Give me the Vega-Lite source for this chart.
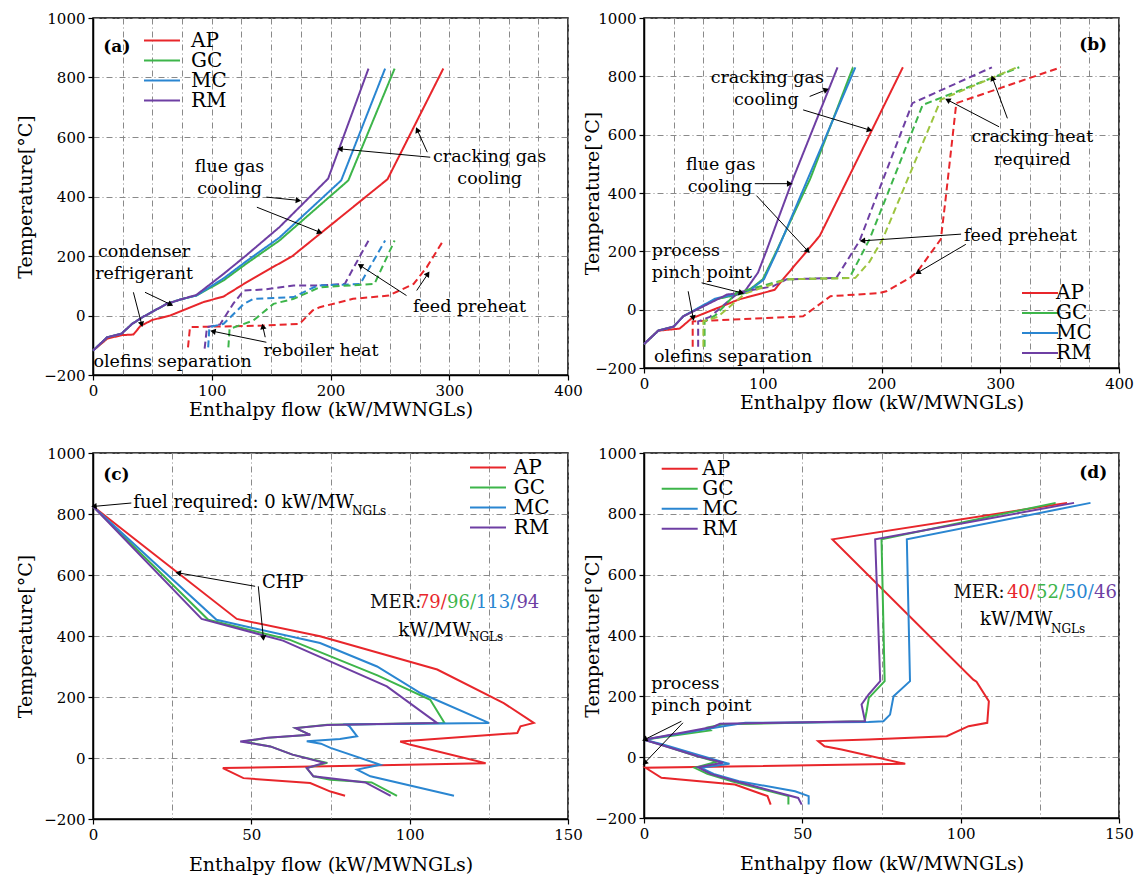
{
"$schema":"https://vega.github.io/schema/vega-lite/v6.json",
"padding":{"left":15,"top":10,"right":5,"bottom":5},
"config":{
 "font":"DejaVu Serif",
 "view":{"stroke":"black","strokeWidth":1.5},
 "axis":{"labelFont":"DejaVu Serif","labelFontSize":15,"labelColor":"black","labelFlush":false,"labelPadding":3,"titleFont":"DejaVu Serif","titleFontSize":19,"titleFontWeight":"normal","titleColor":"black","domainColor":"black","domainWidth":1.5,"tickColor":"black","tickSize":5,"tickWidth":1.2,"gridColor":"#8a8a8a","gridDash":[6,3,1,3],"gridWidth":1,"format":"d"},
 "axisY":{"minExtent":42,"maxExtent":42},
 "axisX":{"minExtent":25,"maxExtent":25},
 "legend":{"labelFont":"DejaVu Serif"},
 "text":{"font":"DejaVu Serif","fontSize":17.5,"baseline":"middle","color":"black"}
},
"resolve":{"scale":{"color":"independent"},"legend":{"color":"independent"}},
"spacing":25,
"vconcat":[
{"hconcat":[
{
 "width":475,"height":357,
 "encoding":{
  "x":{"field":"x","type":"quantitative","scale":{"domain":[0,400],"nice":false},"title":"Enthalpy flow (kW/MWNGLs)","axis":{"values":[0,25,50,75,100,125,150,175,200,225,250,275,300,325,350,375,400],"labelExpr":"datum.value % 100 === 0 ? datum.label : ''","tickOpacity":{"condition":{"test":"datum.value % 100 === 0","value":1},"value":0},"titlePadding":0}},
  "y":{"field":"y","type":"quantitative","scale":{"domain":[-200,1000],"nice":false},"title":"Temperature[°C]","axis":{"values":[-200,0,200,400,600,800,1000],"titlePadding":16}}
 },
 "layer":[
  {"data":{"values":[
{"s":"AP","k":"h","x":0,"y":-118},{"s":"AP","k":"h","x":12,"y":-78},{"s":"AP","k":"h","x":24,"y":-66},{"s":"AP","k":"h","x":34,"y":-64},{"s":"AP","k":"h","x":40,"y":-35},{"s":"AP","k":"h","x":50,"y":-15},{"s":"AP","k":"h","x":65,"y":0},{"s":"AP","k":"h","x":93,"y":45},{"s":"AP","k":"h","x":110,"y":64},{"s":"AP","k":"h","x":127,"y":106},{"s":"AP","k":"h","x":146,"y":150},{"s":"AP","k":"h","x":168,"y":200},{"s":"AP","k":"h","x":248,"y":458},{"s":"AP","k":"h","x":295,"y":830},
{"s":"GC","k":"h","x":0,"y":-118},{"s":"GC","k":"h","x":12,"y":-73},{"s":"GC","k":"h","x":24,"y":-61},{"s":"GC","k":"h","x":33,"y":-28},{"s":"GC","k":"h","x":42,"y":-5},{"s":"GC","k":"h","x":62,"y":39},{"s":"GC","k":"h","x":73,"y":53},{"s":"GC","k":"h","x":87,"y":67},{"s":"GC","k":"h","x":110,"y":118},{"s":"GC","k":"h","x":129,"y":174},{"s":"GC","k":"h","x":157,"y":252},{"s":"GC","k":"h","x":215,"y":454},{"s":"GC","k":"h","x":254,"y":830},
{"s":"MC","k":"h","x":0,"y":-118},{"s":"MC","k":"h","x":12,"y":-73},{"s":"MC","k":"h","x":24,"y":-61},{"s":"MC","k":"h","x":33,"y":-28},{"s":"MC","k":"h","x":42,"y":-5},{"s":"MC","k":"h","x":62,"y":39},{"s":"MC","k":"h","x":73,"y":53},{"s":"MC","k":"h","x":87,"y":67},{"s":"MC","k":"h","x":110,"y":125},{"s":"MC","k":"h","x":129,"y":182},{"s":"MC","k":"h","x":157,"y":262},{"s":"MC","k":"h","x":209,"y":454},{"s":"MC","k":"h","x":246,"y":830},
{"s":"RM","k":"h","x":0,"y":-118},{"s":"RM","k":"h","x":12,"y":-73},{"s":"RM","k":"h","x":24,"y":-61},{"s":"RM","k":"h","x":33,"y":-28},{"s":"RM","k":"h","x":42,"y":-5},{"s":"RM","k":"h","x":62,"y":39},{"s":"RM","k":"h","x":73,"y":53},{"s":"RM","k":"h","x":87,"y":69},{"s":"RM","k":"h","x":110,"y":140},{"s":"RM","k":"h","x":129,"y":202},{"s":"RM","k":"h","x":157,"y":297},{"s":"RM","k":"h","x":198,"y":460},{"s":"RM","k":"h","x":232,"y":830},
{"s":"AP","k":"c","x":80,"y":-107},{"s":"AP","k":"c","x":81.7,"y":-39},{"s":"AP","k":"c","x":143,"y":-34},{"s":"AP","k":"c","x":174,"y":-28},{"s":"AP","k":"c","x":185,"y":17},{"s":"AP","k":"c","x":191,"y":28},{"s":"AP","k":"c","x":219,"y":56},{"s":"AP","k":"c","x":249,"y":67},{"s":"AP","k":"c","x":270,"y":106},{"s":"AP","k":"c","x":281,"y":162},{"s":"AP","k":"c","x":295,"y":252},
{"s":"RM","k":"c","x":94,"y":-111},{"s":"RM","k":"c","x":96,"y":-39},{"s":"RM","k":"c","x":107,"y":-30},{"s":"RM","k":"c","x":118,"y":39},{"s":"RM","k":"c","x":127,"y":84},{"s":"RM","k":"c","x":146,"y":88},{"s":"RM","k":"c","x":169,"y":101},{"s":"RM","k":"c","x":191,"y":101},{"s":"RM","k":"c","x":212,"y":106},{"s":"RM","k":"c","x":232,"y":252},
{"s":"MC","k":"c","x":97,"y":-107},{"s":"MC","k":"c","x":98,"y":-39},{"s":"MC","k":"c","x":110,"y":-28},{"s":"MC","k":"c","x":127,"y":39},{"s":"MC","k":"c","x":135,"y":56},{"s":"MC","k":"c","x":169,"y":62},{"s":"MC","k":"c","x":186,"y":95},{"s":"MC","k":"c","x":191,"y":101},{"s":"MC","k":"c","x":225,"y":106},{"s":"MC","k":"c","x":246,"y":252},
{"s":"GC","k":"c","x":114,"y":-107},{"s":"GC","k":"c","x":115,"y":-45},{"s":"GC","k":"c","x":135,"y":-17},{"s":"GC","k":"c","x":152,"y":39},{"s":"GC","k":"c","x":169,"y":56},{"s":"GC","k":"c","x":191,"y":95},{"s":"GC","k":"c","x":237,"y":106},{"s":"GC","k":"c","x":254,"y":252}
  ]},
  "transform":[{"window":[{"op":"row_number","as":"i"}]}],
  "mark":{"type":"line","strokeWidth":2},
  "encoding":{
   "color":{"field":"s","type":"nominal","scale":{"domain":["AP","GC","MC","RM"],"range":["#E8262B","#3DB54A","#2A86D1","#6E3FA3"]},"legend":{"title":null,"orient":"none","legendX":59,"legendY":12.5,"values":["AP","GC","MC","RM"],"symbolType":"M-3,0H3","symbolSize":144,"symbolStrokeWidth":2,"labelFontSize":20,"labelColor":"black","labelOffset":19,"rowPadding":-1,"padding":0}},
   "strokeDash":{"field":"k","type":"nominal","scale":{"domain":["h","c"],"range":[[1,0],[7,4]]},"legend":null},
   "order":{"field":"i","type":"quantitative"}
  }},
  {"data":{"values":[
{"x":173,"y":387,"tx":146,"ty":398},{"x":191,"y":280,"tx":138,"ty":364},{"x":208,"y":560,"tx":284,"ty":532},{"x":273,"y":624,"tx":281.5,"ty":549},{"x":65.4,"y":37,"tx":43.8,"ty":78},{"x":41,"y":-30,"tx":34,"ty":78},{"x":101,"y":-53,"tx":146,"ty":-90},{"x":143,"y":-37,"tx":145,"ty":-73},{"x":225,"y":168,"tx":264,"ty":67},{"x":282,"y":140,"tx":272.6,"ty":84}
  ]},
  "layer":[
   {"mark":{"type":"rule","color":"black","strokeWidth":1},"encoding":{"x2":{"field":"tx"},"y2":{"field":"ty"}}},
   {"transform":[{"calculate":"atan2((datum.x-datum.tx)*1.1875,(datum.y-datum.ty)*0.2975)*180/PI","as":"ang"}],
    "mark":{"type":"point","shape":"triangle-up","filled":true,"color":"black","size":40,"opacity":1},
    "encoding":{"angle":{"field":"ang","type":"quantitative","scale":null}}}
  ]},
  {"data":{"values":[
{"t":"flue gas","x":115,"y":498},{"t":"cooling","x":115,"y":426},{"t":"cracking gas","x":334,"y":532},{"t":"cooling","x":334,"y":459},{"t":"condenser","x":43,"y":213},{"t":"refrigerant","x":43,"y":140},{"t":"olefins separation","x":67,"y":-157},{"t":"reboiler heat","x":192,"y":-120},{"t":"feed preheat","x":317,"y":28}
  ]},"mark":{"type":"text","align":"center"},"encoding":{"text":{"field":"t"}}},
  {"data":{"values":[{"t":"(a)","x":8.7,"y":902}]},"mark":{"type":"text","align":"left","fontWeight":"bold","fontSize":17},"encoding":{"text":{"field":"t"}}}
 ]
},
{
 "width":475,"height":350,
 "encoding":{
  "x":{"field":"x","type":"quantitative","scale":{"domain":[0,400],"nice":false},"title":"Enthalpy flow (kW/MWNGLs)","axis":{"values":[0,25,50,75,100,125,150,175,200,225,250,275,300,325,350,375,400],"labelExpr":"datum.value % 100 === 0 ? datum.label : ''","tickOpacity":{"condition":{"test":"datum.value % 100 === 0","value":1},"value":0},"titlePadding":0}},
  "y":{"field":"y","type":"quantitative","scale":{"domain":[-200,1000],"nice":false},"title":"Temperature[°C]","axis":{"values":[-200,0,200,400,600,800,1000],"titlePadding":0}}
 },
 "layer":[
  {"data":{"values":[
{"s":"AP","k":"h","x":0,"y":-118},{"s":"AP","k":"h","x":12,"y":-72},{"s":"AP","k":"h","x":30,"y":-65},{"s":"AP","k":"h","x":40,"y":-30},{"s":"AP","k":"h","x":80,"y":35},{"s":"AP","k":"h","x":110,"y":68},{"s":"AP","k":"h","x":117,"y":104},{"s":"AP","k":"h","x":137,"y":200},{"s":"AP","k":"h","x":148,"y":253},{"s":"AP","k":"h","x":218,"y":831},
{"s":"GC","k":"h","x":0,"y":-118},{"s":"GC","k":"h","x":12,"y":-72},{"s":"GC","k":"h","x":25,"y":-58},{"s":"GC","k":"h","x":33,"y":-23},{"s":"GC","k":"h","x":60,"y":35},{"s":"GC","k":"h","x":86,"y":58},{"s":"GC","k":"h","x":89,"y":69},{"s":"GC","k":"h","x":100,"y":104},{"s":"GC","k":"h","x":111,"y":196},{"s":"GC","k":"h","x":140,"y":449},{"s":"GC","k":"h","x":176,"y":831},
{"s":"MC","k":"h","x":0,"y":-118},{"s":"MC","k":"h","x":12,"y":-72},{"s":"MC","k":"h","x":25,"y":-58},{"s":"MC","k":"h","x":33,"y":-23},{"s":"MC","k":"h","x":60,"y":38},{"s":"MC","k":"h","x":86,"y":60},{"s":"MC","k":"h","x":90,"y":69},{"s":"MC","k":"h","x":101,"y":104},{"s":"MC","k":"h","x":112,"y":200},{"s":"MC","k":"h","x":138,"y":449},{"s":"MC","k":"h","x":178,"y":831},
{"s":"RM","k":"h","x":0,"y":-118},{"s":"RM","k":"h","x":12,"y":-72},{"s":"RM","k":"h","x":25,"y":-58},{"s":"RM","k":"h","x":33,"y":-23},{"s":"RM","k":"h","x":70,"y":52},{"s":"RM","k":"h","x":84,"y":58},{"s":"RM","k":"h","x":96,"y":127},{"s":"RM","k":"h","x":103,"y":201},{"s":"RM","k":"h","x":125.5,"y":449},{"s":"RM","k":"h","x":163,"y":831},
{"s":"AP","k":"c","x":41,"y":-127},{"s":"AP","k":"c","x":41,"y":-40},{"s":"AP","k":"c","x":134,"y":-23},{"s":"AP","k":"c","x":157,"y":46},{"s":"AP","k":"c","x":198,"y":57},{"s":"AP","k":"c","x":204,"y":63},{"s":"AP","k":"c","x":224,"y":109},{"s":"AP","k":"c","x":230.5,"y":132},{"s":"AP","k":"c","x":250,"y":242},{"s":"AP","k":"c","x":254,"y":380},{"s":"AP","k":"c","x":263,"y":708},{"s":"AP","k":"c","x":351,"y":831},
{"s":"RM","k":"c","x":45.6,"y":-127},{"s":"RM","k":"c","x":45.6,"y":-40},{"s":"RM","k":"c","x":55.5,"y":-25},{"s":"RM","k":"c","x":80,"y":60},{"s":"RM","k":"c","x":108.6,"y":80},{"s":"RM","k":"c","x":120,"y":104},{"s":"RM","k":"c","x":162,"y":109},{"s":"RM","k":"c","x":181.5,"y":236},{"s":"RM","k":"c","x":226,"y":708},{"s":"RM","k":"c","x":293,"y":831},
{"s":"GC","k":"c","x":51,"y":-127},{"s":"GC","k":"c","x":51,"y":-40},{"s":"GC","k":"c","x":60,"y":-20},{"s":"GC","k":"c","x":78,"y":58},{"s":"GC","k":"c","x":120,"y":104},{"s":"GC","k":"c","x":173,"y":109},{"s":"GC","k":"c","x":190,"y":242},{"s":"GC","k":"c","x":234.7,"y":702},{"s":"GC","k":"c","x":316,"y":831},
{"s":"MCb","k":"c","x":50,"y":-127},{"s":"MCb","k":"c","x":50,"y":-40},{"s":"MCb","k":"c","x":62,"y":-25},{"s":"MCb","k":"c","x":85,"y":55},{"s":"MCb","k":"c","x":120,"y":104},{"s":"MCb","k":"c","x":178,"y":109},{"s":"MCb","k":"c","x":190,"y":165},{"s":"MCb","k":"c","x":201,"y":242},{"s":"MCb","k":"c","x":250,"y":720},{"s":"MCb","k":"c","x":313,"y":829}
  ]},
  "transform":[{"window":[{"op":"row_number","as":"i"}]}],
  "mark":{"type":"line","strokeWidth":2},
  "encoding":{
   "color":{"field":"s","type":"nominal","scale":{"domain":["AP","GC","MC","RM","MCb"],"range":["#E8262B","#3DB54A","#2A86D1","#6E3FA3","#9DC43F"]},"legend":{"title":null,"orient":"none","legendX":386,"legendY":265,"values":["AP","GC","MC","RM"],"symbolType":"M-3,0H3","symbolSize":144,"symbolStrokeWidth":2,"labelFontSize":20,"labelColor":"black","labelOffset":6,"rowPadding":-1.5,"padding":0}},
   "strokeDash":{"field":"k","type":"nominal","scale":{"domain":["h","c"],"range":[[1,0],[7,4]]},"legend":null},
   "order":{"field":"i","type":"quantitative"}
  }},
  {"data":{"values":[
{"x":153.5,"y":754,"tx":139.5,"ty":731},{"x":190,"y":616,"tx":134,"ty":685},{"x":122.7,"y":432,"tx":93.3,"ty":432},{"x":138,"y":201,"tx":94.7,"ty":391},{"x":82,"y":58,"tx":48.5,"ty":92},{"x":41.4,"y":-29,"tx":37.2,"ty":63},{"x":293.5,"y":794,"tx":306,"ty":656},{"x":255.7,"y":719,"tx":299,"ty":627},{"x":184,"y":236,"tx":267,"ty":259},{"x":230.5,"y":127,"tx":271,"ty":224}
  ]},
  "layer":[
   {"mark":{"type":"rule","color":"black","strokeWidth":1},"encoding":{"x2":{"field":"tx"},"y2":{"field":"ty"}}},
   {"transform":[{"calculate":"atan2((datum.x-datum.tx)*1.1875,(datum.y-datum.ty)*0.29167)*180/PI","as":"ang"}],
    "mark":{"type":"point","shape":"triangle-up","filled":true,"color":"black","size":40,"opacity":1},
    "encoding":{"angle":{"field":"ang","type":"quantitative","scale":null}}}
  ]},
  {"data":{"values":[
{"t":"cracking gas","x":103.8,"y":794},{"t":"cooling","x":103,"y":719},{"t":"flue gas","x":64.6,"y":495},{"t":"cooling","x":64,"y":420},{"t":"olefins separation","x":75,"y":-161},{"t":"cracking heat","x":327,"y":593},{"t":"required","x":327,"y":512},{"t":"feed preheat","x":317,"y":253}
  ]},"mark":{"type":"text","align":"center"},"encoding":{"text":{"field":"t"}}},
  {"data":{"values":[{"t":"process","x":6.5,"y":201},{"t":"pinch point","x":6.5,"y":127}]},"mark":{"type":"text","align":"left"},"encoding":{"text":{"field":"t"}}},
  {"data":{"values":[{"t":"(b)","x":390,"y":909}]},"mark":{"type":"text","align":"right","fontWeight":"bold","fontSize":17},"encoding":{"text":{"field":"t"}}}
 ]
}
],"spacing":76,"bounds":"flush","resolve":{"scale":{"color":"independent"},"legend":{"color":"independent"}}},
{"hconcat":[
{
 "width":475,"height":366,
 "encoding":{
  "x":{"field":"x","type":"quantitative","scale":{"domain":[0,150],"nice":false},"title":"Enthalpy flow (kW/MWNGLs)","axis":{"values":[0,25,50,75,100,125,150],"labelExpr":"datum.value % 50 === 0 ? datum.label : ''","tickOpacity":{"condition":{"test":"datum.value % 50 === 0","value":1},"value":0},"titlePadding":11}},
  "y":{"field":"y","type":"quantitative","scale":{"domain":[-200,1000],"nice":false},"title":"Temperature[°C]","axis":{"values":[-200,0,200,400,600,800,1000],"titlePadding":16}}
 },
 "layer":[
  {"data":{"values":[
{"s":"AP","x":0,"y":825},{"s":"AP","x":45.4,"y":456},{"s":"AP","x":71.7,"y":399},{"s":"AP","x":108.7,"y":290},{"s":"AP","x":129.7,"y":180},{"s":"AP","x":139.2,"y":115},{"s":"AP","x":135,"y":104},{"s":"AP","x":134,"y":82},{"s":"AP","x":97,"y":54},{"s":"AP","x":100,"y":44},{"s":"AP","x":124,"y":-17},{"s":"AP","x":73.9,"y":-27},{"s":"AP","x":41,"y":-33},{"s":"AP","x":47.5,"y":-66},{"s":"AP","x":68.6,"y":-82},{"s":"AP","x":75,"y":-110},{"s":"AP","x":79.6,"y":-124},
{"s":"GC","x":0,"y":825},{"s":"GC","x":36.4,"y":453},{"s":"GC","x":62,"y":388},{"s":"GC","x":90,"y":270},{"s":"GC","x":106.5,"y":191},{"s":"GC","x":111,"y":115},{"s":"GC","x":74,"y":109},{"s":"GC","x":64,"y":98},{"s":"GC","x":68.6,"y":76},{"s":"GC","x":55,"y":66},{"s":"GC","x":47.5,"y":54},{"s":"GC","x":56,"y":38},{"s":"GC","x":63,"y":11},{"s":"GC","x":74,"y":-16},{"s":"GC","x":67.5,"y":-33},{"s":"GC","x":69.6,"y":-60},{"s":"GC","x":75,"y":-71},{"s":"GC","x":88,"y":-80},{"s":"GC","x":96,"y":-124},
{"s":"MC","x":0,"y":825},{"s":"MC","x":39,"y":453},{"s":"MC","x":71.7,"y":377},{"s":"MC","x":89.7,"y":300},{"s":"MC","x":103.4,"y":213},{"s":"MC","x":125,"y":115},{"s":"MC","x":80,"y":110},{"s":"MC","x":81,"y":104},{"s":"MC","x":83.4,"y":71},{"s":"MC","x":78,"y":62},{"s":"MC","x":67.5,"y":55},{"s":"MC","x":72,"y":47},{"s":"MC","x":75,"y":33},{"s":"MC","x":90.7,"y":-22},{"s":"MC","x":83.4,"y":-38},{"s":"MC","x":87.6,"y":-60},{"s":"MC","x":114,"y":-124},
{"s":"RM","x":0,"y":825},{"s":"RM","x":34.3,"y":456},{"s":"RM","x":60,"y":385},{"s":"RM","x":92.8,"y":235},{"s":"RM","x":108.6,"y":115},{"s":"RM","x":74,"y":108},{"s":"RM","x":64,"y":98},{"s":"RM","x":68.6,"y":76},{"s":"RM","x":55,"y":66},{"s":"RM","x":46.5,"y":54},{"s":"RM","x":56,"y":38},{"s":"RM","x":63,"y":11},{"s":"RM","x":73,"y":-16},{"s":"RM","x":67.5,"y":-33},{"s":"RM","x":69.6,"y":-60},{"s":"RM","x":86,"y":-80},{"s":"RM","x":94,"y":-124}
  ]},
  "transform":[{"window":[{"op":"row_number","as":"i"}]}],
  "mark":{"type":"line","strokeWidth":2},
  "encoding":{
   "color":{"field":"s","type":"nominal","scale":{"domain":["AP","GC","MC","RM"],"range":["#E8262B","#3DB54A","#2A86D1","#6E3FA3"]},"legend":{"title":null,"orient":"none","legendX":385,"legendY":4.5,"values":["AP","GC","MC","RM"],"symbolType":"M-3,0H3","symbolSize":144,"symbolStrokeWidth":2,"labelFontSize":20,"labelColor":"black","labelOffset":15.7,"rowPadding":-1,"padding":0}},
   "order":{"field":"i","type":"quantitative"}
  }},
  {"data":{"values":[
{"x":0.3,"y":825,"tx":12.1,"ty":836},{"x":26.9,"y":607,"tx":51.2,"ty":563},{"x":53.8,"y":393,"tx":52.2,"ty":563}
  ]},
  "layer":[
   {"mark":{"type":"rule","color":"black","strokeWidth":1},"encoding":{"x2":{"field":"tx"},"y2":{"field":"ty"}}},
   {"transform":[{"calculate":"atan2((datum.x-datum.tx)*3.1667,(datum.y-datum.ty)*0.305)*180/PI","as":"ang"}],
    "mark":{"type":"point","shape":"triangle-up","filled":true,"color":"black","size":40,"opacity":1},
    "encoding":{"angle":{"field":"ang","type":"quantitative","scale":null}}}
  ]},
  {"data":{"values":[{"t":"fuel required: 0 kW/MW","x":12.7,"y":836},{"t":"CHP","x":53.4,"y":574},{"t":"kW/MW","x":96.4,"y":415}]},"mark":{"type":"text","align":"left","fontSize":18},"encoding":{"text":{"field":"t"}}},
  {"data":{"values":[{"t":"NGLs","x":81.8,"y":809},{"t":"NGLs","x":118.7,"y":397}]},"mark":{"type":"text","align":"left","fontSize":12},"encoding":{"text":{"field":"t"}}},
  {"data":{"values":[{"t":"(c)","x":3.2,"y":929}]},"mark":{"type":"text","align":"left","fontWeight":"bold","fontSize":17},"encoding":{"text":{"field":"t"}}},
  {"data":{"values":[{"t":"MER:","s":"K","x":87.5,"y":508},{"t":"79/","s":"AP","x":102.6,"y":508},{"t":"96/","s":"GC","x":111.8,"y":508},{"t":"113/","s":"MC","x":120.9,"y":508},{"t":"94","s":"RM","x":133.7,"y":508}]},
   "mark":{"type":"text","align":"left","fontSize":18},
   "encoding":{"text":{"field":"t"},"fill":{"field":"s","type":"nominal","scale":{"domain":["K","AP","GC","MC","RM"],"range":["#111111","#E8262B","#3DB54A","#2A86D1","#6E3FA3"]},"legend":null}}}
 ]
},
{
 "width":475,"height":365,
 "encoding":{
  "x":{"field":"x","type":"quantitative","scale":{"domain":[0,150],"nice":false},"title":"Enthalpy flow (kW/MWNGLs)","axis":{"values":[0,25,50,75,100,125,150],"labelExpr":"datum.value % 50 === 0 ? datum.label : ''","tickOpacity":{"condition":{"test":"datum.value % 50 === 0","value":1},"value":0},"titlePadding":11}},
  "y":{"field":"y","type":"quantitative","scale":{"domain":[-200,1000],"nice":false},"title":"Temperature[°C]","axis":{"values":[-200,0,200,400,600,800,1000],"titlePadding":0}}
 },
 "layer":[
  {"data":{"values":[
{"s":"AP","x":133.6,"y":836},{"s":"AP","x":59.5,"y":716},{"s":"AP","x":104,"y":255},{"s":"AP","x":105,"y":248},{"s":"AP","x":108.9,"y":184},{"s":"AP","x":108.4,"y":113},{"s":"AP","x":102.5,"y":102},{"s":"AP","x":95.6,"y":69},{"s":"AP","x":70.9,"y":58},{"s":"AP","x":55,"y":53},{"s":"AP","x":57,"y":36},{"s":"AP","x":62.4,"y":25},{"s":"AP","x":82.5,"y":-22},{"s":"AP","x":0.5,"y":-35},{"s":"AP","x":5.5,"y":-68},{"s":"AP","x":28.7,"y":-90},{"s":"AP","x":39,"y":-128},{"s":"AP","x":40,"y":-156},
{"s":"GC","x":130,"y":836},{"s":"GC","x":75,"y":716},{"s":"GC","x":76,"y":250},{"s":"GC","x":71,"y":195},{"s":"GC","x":70.3,"y":151},{"s":"GC","x":69.7,"y":118},{"s":"GC","x":25,"y":108},{"s":"GC","x":20,"y":97},{"s":"GC","x":21,"y":88},{"s":"GC","x":0,"y":57},{"s":"GC","x":5.5,"y":41},{"s":"GC","x":16,"y":5},{"s":"GC","x":23,"y":-15},{"s":"GC","x":16,"y":-35},{"s":"GC","x":20,"y":-55},{"s":"GC","x":28,"y":-80},{"s":"GC","x":45.6,"y":-128},{"s":"GC","x":45.6,"y":-156},
{"s":"MC","x":141,"y":836},{"s":"MC","x":83,"y":716},{"s":"MC","x":84,"y":250},{"s":"MC","x":78.8,"y":200},{"s":"MC","x":77.7,"y":140},{"s":"MC","x":75.6,"y":118},{"s":"MC","x":70.9,"y":116},{"s":"MC","x":32,"y":113},{"s":"MC","x":26,"y":103},{"s":"MC","x":0,"y":57},{"s":"MC","x":6,"y":42},{"s":"MC","x":18,"y":5},{"s":"MC","x":27,"y":-22},{"s":"MC","x":18,"y":-35},{"s":"MC","x":22,"y":-55},{"s":"MC","x":30,"y":-79},{"s":"MC","x":47.7,"y":-112},{"s":"MC","x":52,"y":-128},{"s":"MC","x":52,"y":-156},
{"s":"RM","x":135.8,"y":836},{"s":"RM","x":73,"y":716},{"s":"RM","x":74.6,"y":250},{"s":"RM","x":70.9,"y":206},{"s":"RM","x":68.7,"y":173},{"s":"RM","x":69.8,"y":118},{"s":"RM","x":24,"y":110},{"s":"RM","x":22,"y":100},{"s":"RM","x":0,"y":57},{"s":"RM","x":5.5,"y":40},{"s":"RM","x":17,"y":3},{"s":"RM","x":25,"y":-18},{"s":"RM","x":17,"y":-33},{"s":"RM","x":21,"y":-55},{"s":"RM","x":29,"y":-79},{"s":"RM","x":48.7,"y":-134},{"s":"RM","x":49.8,"y":-156}
  ]},
  "transform":[{"window":[{"op":"row_number","as":"i"}]}],
  "mark":{"type":"line","strokeWidth":2},
  "encoding":{
   "color":{"field":"s","type":"nominal","scale":{"domain":["AP","GC","MC","RM"],"range":["#E8262B","#3DB54A","#2A86D1","#6E3FA3"]},"legend":{"title":null,"orient":"none","legendX":25.7,"legendY":5.8,"values":["AP","GC","MC","RM"],"symbolType":"M-3,0H3","symbolSize":144,"symbolStrokeWidth":2,"labelFontSize":20,"labelColor":"black","labelOffset":12.6,"rowPadding":-1,"padding":0}},
   "order":{"field":"i","type":"quantitative"}
  }},
  {"data":{"values":[
{"x":0.2,"y":58,"tx":11.8,"ty":118},{"x":0.2,"y":-19,"tx":12.3,"ty":113}
  ]},
  "layer":[
   {"mark":{"type":"rule","color":"black","strokeWidth":1},"encoding":{"x2":{"field":"tx"},"y2":{"field":"ty"}}},
   {"transform":[{"calculate":"atan2((datum.x-datum.tx)*3.1667,(datum.y-datum.ty)*0.30417)*180/PI","as":"ang"}],
    "mark":{"type":"point","shape":"triangle-up","filled":true,"color":"black","size":40,"opacity":1},
    "encoding":{"angle":{"field":"ang","type":"quantitative","scale":null}}}
  ]},
  {"data":{"values":[{"t":"process","x":2.3,"y":239},{"t":"pinch point","x":2.3,"y":168}]},"mark":{"type":"text","align":"left"},"encoding":{"text":{"field":"t"}}},
  {"data":{"values":[{"t":"kW/MW","x":106.1,"y":452.6}]},"mark":{"type":"text","align":"left","fontSize":18},"encoding":{"text":{"field":"t"}}},
  {"data":{"values":[{"t":"NGLs","x":128.5,"y":423}]},"mark":{"type":"text","align":"left","fontSize":12},"encoding":{"text":{"field":"t"}}},
  {"data":{"values":[{"t":"(d)","x":146.3,"y":935}]},"mark":{"type":"text","align":"right","fontWeight":"bold","fontSize":17},"encoding":{"text":{"field":"t"}}},
  {"data":{"values":[{"t":"MER: ","s":"K","x":97.7,"y":540},{"t":"40/","s":"AP","x":114.6,"y":540},{"t":"52/","s":"GC","x":123.8,"y":540},{"t":"50/","s":"MC","x":132.9,"y":540},{"t":"46","s":"RM","x":142.1,"y":540}]},
   "mark":{"type":"text","align":"left","fontSize":18},
   "encoding":{"text":{"field":"t"},"fill":{"field":"s","type":"nominal","scale":{"domain":["K","AP","GC","MC","RM"],"range":["#111111","#E8262B","#3DB54A","#2A86D1","#6E3FA3"]},"legend":null}}}
 ]
}
],"spacing":76,"bounds":"flush","resolve":{"scale":{"color":"independent"},"legend":{"color":"independent"}}}
]
}
